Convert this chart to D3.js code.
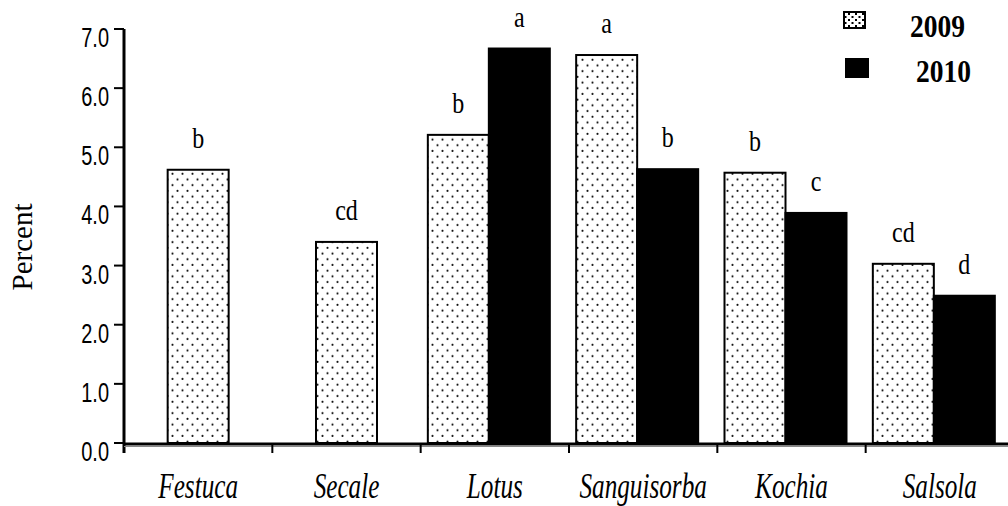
<!DOCTYPE html>
<html>
<head>
<meta charset="utf-8">
<script src="https://cdn.jsdelivr.net/npm/d3@7"></script>
<style>
  html, body { margin: 0; padding: 0; background: #fff; }
  svg { display: block; }
</style>
</head>
<body>
<svg id="chart" width="1008" height="506"></svg>
<script>
// ---- data ----
const categories = ["Festuca", "Secale", "Lotus", "Sanguisorba", "Kochia", "Salsola"];
const seriesNames = ["2009", "2010"];
const values2009 = [4.62, 3.40, 5.21, 6.56, 4.57, 3.03];
const values2010 = [null, null, 6.67, 4.63, 3.89, 2.49];
const letters2009 = ["b", "cd", "b", "a", "b", "cd"];
const letters2010 = [null, null, "a", "b", "c", "d"];
const yTicks = [0, 1, 2, 3, 4, 5, 6, 7];
const yTitle = "Percent";

// ---- layout ----
const svg = d3.select("#chart");
const W = 1008, H = 506;
svg.append("rect").attr("width", W).attr("height", H).attr("fill", "#fff");

const x0 = 124, x1 = 1014, yBase = 443, yTop = 29;
const x = d3.scaleBand().domain(categories).range([x0, x1]).padding(0);
const y = d3.scaleLinear().domain([0, 7]).range([yBase, yTop]);
const barW = 61;

// dot pattern
const defs = svg.append("defs");
const pat = defs.append("pattern").attr("id", "dots")
  .attr("patternUnits", "userSpaceOnUse").attr("width", 10).attr("height", 11.4);
pat.append("rect").attr("width", 10).attr("height", 11.4).attr("fill", "#fff");
pat.append("circle").attr("cx", 2.5).attr("cy", 2.8).attr("r", 1.05).attr("fill", "#111");
pat.append("circle").attr("cx", 7.5).attr("cy", 8.5).attr("r", 1.05).attr("fill", "#111");

const pat2 = defs.append("pattern").attr("id", "legdots")
  .attr("patternUnits", "userSpaceOnUse").attr("width", 7).attr("height", 6);
pat2.append("rect").attr("width", 7).attr("height", 6).attr("fill", "#fff");
pat2.append("rect").attr("x", 1).attr("y", 1).attr("width", 2).attr("height", 2).attr("fill", "#000");
pat2.append("rect").attr("x", 4.5).attr("y", 4).attr("width", 2).attr("height", 2).attr("fill", "#000");

function stext(g, px, py, str, o) {
  return g.append("text")
    .attr("transform", `translate(${px},${py}) scale(${o.sx || 1},${o.sy || 1})` + (o.rot ? ` rotate(${o.rot})` : ""))
    .attr("text-anchor", o.anchor || "middle")
    .attr("font-family", o.family || "'Liberation Serif', 'Times New Roman', serif")
    .attr("font-size", o.size)
    .attr("font-weight", o.weight || "normal")
    .attr("font-style", o.style || "normal")
    .attr("fill", "#000")
    .text(str);
}

// ---- bars ----
const fills = { "2009": "url(#dots)", "2010": "#000" };
const gBars = svg.append("g");
const gLetters = svg.append("g");
categories.forEach((c, i) => {
  const items = [];
  if (values2009[i] != null) items.push({ s: "2009", v: values2009[i], l: letters2009[i] });
  if (values2010[i] != null) items.push({ s: "2010", v: values2010[i], l: letters2010[i] });
  const center = x(c) + x.bandwidth() / 2 - (items.length > 1 ? 6 : 0);
  const inner = d3.scaleBand().domain(items.map(d => d.s))
    .range([center - items.length * barW / 2, center + items.length * barW / 2]);
  items.forEach(d => {
    gBars.append("rect")
      .attr("x", inner(d.s)).attr("y", y(d.v))
      .attr("width", inner.bandwidth()).attr("height", yBase - y(d.v))
      .attr("fill", fills[d.s])
      .attr("stroke", "#000").attr("stroke-width", 2);
    if (d.l) {
      stext(gLetters, inner(d.s) + inner.bandwidth() / 2, y(d.v) - 22, d.l, { size: 30, sx: 0.8 });
    }
  });
});

// ---- axes ----
const gAxis = svg.append("g");
gAxis.append("line").attr("x1", x0).attr("x2", x0).attr("y1", y(7)).attr("y2", yBase + 10)
  .attr("stroke", "#000").attr("stroke-width", 3);
gAxis.append("line").attr("x1", x0).attr("x2", W).attr("y1", yBase + 1).attr("y2", yBase + 1)
  .attr("stroke", "#000").attr("stroke-width", 3);
gAxis.append("line").attr("x1", x0).attr("x2", W).attr("y1", yBase + 3.5).attr("y2", yBase + 3.5)
  .attr("stroke", "#888").attr("stroke-width", 1);

yTicks.forEach(t => {
  gAxis.append("line").attr("x1", x0 - 10).attr("x2", x0).attr("y1", y(t)).attr("y2", y(t))
    .attr("stroke", "#000").attr("stroke-width", 2);
  stext(gAxis, 109, y(t) + 18, d3.format(".1f")(t),
    { size: 27, sx: 0.74, anchor: "end", family: "'Liberation Sans', Arial, sans-serif" });
});

categories.forEach(c => {
  if (x(c) > x0 + 1) {
    gAxis.append("line").attr("x1", x(c)).attr("x2", x(c)).attr("y1", yBase).attr("y2", yBase + 10)
      .attr("stroke", "#000").attr("stroke-width", 2);
  }
  stext(gAxis, x(c) + x.bandwidth() / 2, 498, c,
    { size: 35, sx: 0.72, style: "italic" });
});

stext(svg, 32, 247, yTitle, { size: 29, rot: -90 });

// ---- legend ----
const gLeg = svg.append("g");
const legBoxes = [
  { s: seriesNames[0], bx: 844, by: 12, bw: 21, bh: 16, tx: 910, ty: 37 },
  { s: seriesNames[1], bx: 846, by: 59, bw: 22, bh: 18, tx: 916, ty: 82 }
];
legBoxes.forEach(d => {
  gLeg.append("rect").attr("x", d.bx).attr("y", d.by).attr("width", d.bw).attr("height", d.bh)
    .attr("fill", d.s === "2009" ? "url(#legdots)" : "#000")
    .attr("stroke", "#000").attr("stroke-width", 2);
  stext(gLeg, d.tx, d.ty, d.s, { size: 32, sx: 0.86, anchor: "start", weight: "bold" });
});
</script>
</body>
</html>
